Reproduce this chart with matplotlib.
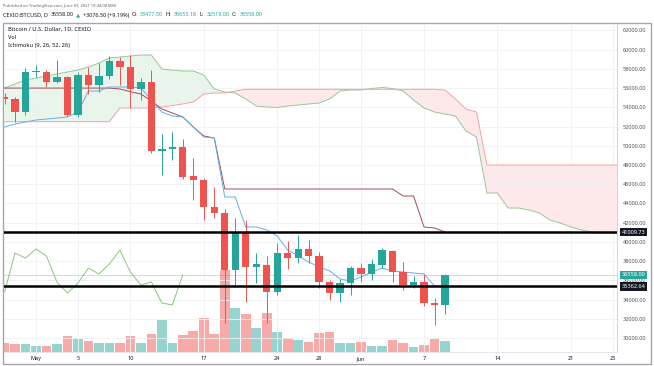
import matplotlib
matplotlib.use("Agg")
import matplotlib.pyplot as plt
import matplotlib.dates as mdates
from matplotlib.patches import Rectangle
import numpy as np
import pandas as pd

plt.rcParams['font.family'] = ['Noto Sans', 'DejaVu Sans']

# daily candles, CEXIO BTCUSD
days = pd.date_range('2021-04-28', '2021-06-09', freq='D')
opens = [55080, 54870, 53520, 57680, 57680, 56640, 57160, 53200, 57370, 56330,
         57260, 58820, 58200, 55910, 56640, 49460, 49670, 49880, 46850, 46440,
         43630, 43010, 37060, 40910, 37380, 37590, 34780, 38840, 38320, 39260,
         38530, 35810, 34680, 35720, 37280, 36660, 37600, 39050, 36870, 35510,
         35830, 33640, 33477.5]
highs = [55500, 55100, 58100, 58400, 57900, 58930, 57300, 57710, 58230, 58590,
         59300, 59200, 59450, 57050, 57890, 51230, 51440, 50710, 48730, 46600,
         45740, 43420, 42460, 42280, 38810, 38530, 39850, 40100, 40720, 40200,
         38950, 36050, 36100, 37500, 37800, 38220, 39400, 39200, 37910, 36400,
         36700, 34160, 36653.18]
lows = [54300, 52480, 53200, 57160, 56150, 56535, 53100, 53030, 55360, 55630,
        56900, 56300, 53900, 54770, 49200, 46960, 48520, 46500, 44360, 42280,
        42460, 31560, 35280, 33750, 35720, 31560, 34500, 37150, 37800, 37770,
        35200, 33950, 33750, 34480, 35830, 36040, 37300, 35830, 35000, 35200,
        33300, 31350, 32519.0]
closes = [54870, 53520, 57710, 57790, 56670, 57190, 53250, 57370, 56330, 57260,
          58820, 58200, 55910, 56640, 49460, 49670, 49880, 46750, 46440, 43630,
          43010, 37060, 40910, 37380, 37690, 34780, 38840, 38320, 39260, 38530,
          35810, 34680, 35720, 37280, 36660, 37700, 39150, 36870, 35510, 35830,
          33640, 33440, 36558.0]
volumes = [261, 231, 240, 180, 180, 240, 489, 381, 321, 279,
           279, 261, 489, 279, 549, 960, 279, 510, 639, 1011,
           531, 2460, 1311, 1131, 711, 1179, 609, 411, 360, 309,
           561, 591, 261, 261, 309, 189, 189, 360, 279, 159,
           210, 381, 339]

# ichimoku lines
tenkan = [51956, 52268, 52477, 52685, 52789, 52893, 52997,
          53517, 55702, 55702, 56119, 56119, 56119, 56015,
          54766, 53517, 53101, 52997, 51956, 50916, 50811,
          44672, 44672, 41550, 41550, 41238, 40614, 39158,
          38534, 37909, 37389, 36972, 36140, 35932, 36350,
          36850, 37285, 36972, 36868, 36764, 36660, 35411, 35411]
kijun = [56005] * 11 + [55910, 55630, 55390, 54662, 53830, 53413, 52997,
                        51956, 51020, 50811] + [45504] * 17 + \
        [44776, 44776, 41550, 41446, 41030]

cloud_days = pd.date_range('2021-04-27', '2021-06-26', freq='D')
span_a = [55806, 56015, 56431, 56847, 57055, 57263, 57471,
          57680, 57888, 58200, 58616, 59136, 59240, 59344,
          59448, 59448, 57992, 57888, 57784, 57784, 57367,
          55910, 55598, 55494, 54870, 54141, 54037, 53985,
          54141, 54246, 54350, 54454, 54870, 55702, 55806,
          55806, 55962, 56067, 55962, 55702, 54766, 53933,
          53517, 53309, 53101, 51540, 50915, 45088, 45088,
          43527, 43527, 43319, 43007, 42279, 41966, 41550,
          41238, 41030, 40926, 40926, 40926]
span_b = [52508] * 12 + [53933] * 4 + \
         [54037, 54194, 54350, 54558, 55390, 55494, 55494, 55702] + \
         [55879] * 19 + [55806, 54870, 53829, 53517] + [48002] * 14
lag = 25

levels = [41009.73, 35362.64]
last_price = 36558.00

date_ticks = pd.to_datetime(['2021-05-01', '2021-05-05', '2021-05-10', '2021-05-17',
                             '2021-05-24', '2021-05-28', '2021-06-01', '2021-06-07',
                             '2021-06-14', '2021-06-21', '2021-06-25'])
date_labels = ['May', '5', '10', '17', '24', '28', 'Jun', '7', '14', '21', '25']

W, H = 654, 366
up, down = '#26a69a', '#ef5350'
up_v, down_v = '#98d4cf', '#f7aaa8'
dark = '#131722'

fig = plt.figure(figsize=(W / 100, H / 100), dpi=100)
fig.patch.set_facecolor('white')

ax = fig.add_axes([4 / W, 1 - 352 / H, 613 / W, 328 / H])
axv = ax.twinx()
ax.set_zorder(axv.get_zorder() + 1)
ax.patch.set_visible(False)

x = mdates.date2num(days)
xc = mdates.date2num(cloud_days)
o = np.array(opens); c = np.array(closes)
h = np.array(highs); l = np.array(lows)
is_up = c >= o

# volume
axv.bar(x, volumes, width=0.92, color=np.where(is_up, up_v, down_v), zorder=1)
axv.set_ylim(0, 9840)
axv.axis('off')

# cloud
sa = np.array(span_a); sb = np.array(span_b)
ax.fill_between(xc, sa, sb, where=sa >= sb, interpolate=True, color='#e9f4ea', lw=0, zorder=1)
ax.fill_between(xc, sa, sb, where=sa < sb, interpolate=True, color='#fde9ea', lw=0, zorder=1)
ax.plot(xc, sa, color='#97c79a', lw=0.7, zorder=2)
ax.plot(xc, sb, color='#eea4a6', lw=0.7, zorder=2)

ax.plot(x, kijun, color='#a24b55', lw=0.7, zorder=2)
ax.plot(x, tenkan, color='#64aee8', lw=0.7, zorder=2)
ax.plot(x[:len(closes) - lag], closes[lag:], color='#8cc47e', lw=0.7, zorder=2)

# candles
cols = np.where(is_up, up, down)
ax.vlines(x, l, h, colors=cols, lw=0.7, zorder=3)
body = np.maximum(np.abs(c - o), 80)
ax.bar(x, body, bottom=np.minimum(o, c), width=0.7, color=cols, zorder=3)

for lv in levels:
    ax.axhline(lv, color='black', lw=1.8, zorder=4)
ax.axhline(last_price, color=up, lw=0.6, alpha=0.35, zorder=2)

ax.set_xlim(mdates.date2num(pd.Timestamp('2021-05-01')) - 3.05,
            mdates.date2num(pd.Timestamp('2021-05-01')) + 55.4)
ax.set_ylim(28543, 62674)

ax.set_yticks(np.arange(30000, 62001, 2000))
ax.yaxis.set_major_formatter(matplotlib.ticker.FuncFormatter(lambda v, p: '%.2f' % v))
ax.yaxis.tick_right()
ax.tick_params(axis='y', length=0, pad=4, labelsize=4, labelcolor='#50535e')
ax.set_xticks(mdates.date2num(date_ticks))
ax.set_xticklabels(date_labels)
ax.tick_params(axis='x', length=0, pad=3, labelsize=4, labelcolor=dark)
for t in ax.get_xticklabels():
    if t.get_text() in ('May', 'Jun'):
        t.set_fontweight('bold')
ax.grid(True, color='#eef0f5', lw=0.6, zorder=0)
for s in ['top', 'left']:
    ax.spines[s].set_visible(False)
ax.spines['right'].set_color('#c9ccd4')
ax.spines['bottom'].set_color('#e0e3eb')
ax.spines['right'].set_linewidth(0.6)
ax.spines['bottom'].set_linewidth(0.6)

# axis price labels
def tag(v, txt, fc):
    ax.annotate(txt, xy=(1, v), xycoords=('axes fraction', 'data'),
                xytext=(3.5, 0), textcoords='offset points', ha='left', va='center',
                fontsize=4, color='white', zorder=6, annotation_clip=False,
                bbox=dict(boxstyle='square,pad=0.3', fc=fc, ec='none'))

tag(last_price, '%.2f' % last_price, up)
for lv in levels:
    tag(lv, '%.2f' % lv, dark)

# frame
fig.add_artist(Rectangle((3 / W, 2 / H), 648 / W, 341 / H, transform=fig.transFigure,
                         fill=False, ec='#a3a6ad', lw=1.0))

# header
fig.text(3 / W, 1 - 6 / H, 'Published on TradingView.com, June 09, 2021 19:44:08 MSK',
         fontsize=2.9, color='#5d606b', va='center')
renderer = fig.canvas.get_renderer()
parts = [('CEXIO:BTCUSD, D', dark, 'bold'), ('36558.00', dark, 'normal'),
         ('\u25B2', up, 'normal'), ('+3076.50 (+9.19%)', dark, 'normal'),
         ('O:', dark, 'normal'), ('33477.50', up, 'normal'),
         ('H:', dark, 'normal'), ('36653.18', up, 'normal'),
         ('L:', dark, 'normal'), ('32519.00', up, 'normal'),
         ('C:', dark, 'normal'), ('36558.00', up, 'normal')]
xp = 3
for s, col, w in parts:
    t = fig.text(xp / W, 1 - 15 / H, s, fontsize=3.9, color=col, fontweight=w, va='center')
    xp += t.get_window_extent(renderer).width + 2.6

fig.text(8 / W, 1 - 29.5 / H, 'Bitcoin / U.S. Dollar, 1D, CEXIO', fontsize=4.2,
         fontweight='bold', color=dark, va='center')
fig.text(8 / W, 1 - 37.5 / H, 'Vol', fontsize=4.1, color=dark, va='center')
fig.text(8 / W, 1 - 45.5 / H, 'Ichimoku (9, 26, 52, 26)', fontsize=4.1, color=dark, va='center')

fig.savefig('out.png', dpi=100, facecolor='white')
